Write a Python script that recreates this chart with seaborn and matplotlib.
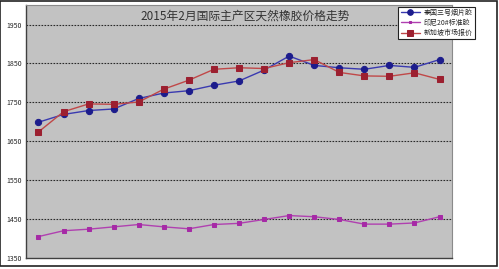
import matplotlib
matplotlib.use("Agg")
import matplotlib.pyplot as plt
import seaborn as sns
import pandas as pd
from matplotlib.patches import Rectangle

sns.set_theme(style="white")
plt.rcParams['font.family'] = ['Noto Sans CJK SC', 'DejaVu Sans']

title = "2015年2月国际主产区天然橡胶价格走势"
series_names = ["泰国三号烟片胶", "印尼20#标准胶", "新加坡市场报价"]
days = list(range(17))
thai_rss3 = [1699, 1719, 1729, 1733, 1760, 1774, 1780, 1794, 1805, 1833,
             1869, 1845, 1839, 1835, 1845, 1840, 1860]
indo_sir20 = [1405, 1420, 1424, 1430, 1436, 1430, 1425, 1436, 1439, 1449,
              1459, 1456, 1449, 1437, 1437, 1440, 1456]
sg_quote = [1674, 1726, 1746, 1745, 1751, 1784, 1807, 1835, 1839, 1837,
            1852, 1860, 1827, 1818, 1817, 1826, 1809]
yticks = [1350, 1450, 1550, 1650, 1750, 1850, 1950]

df = pd.DataFrame({
    "day": days * 3,
    "price": thai_rss3 + indo_sir20 + sg_quote,
    "series": [series_names[0]] * 17 + [series_names[1]] * 17 + [series_names[2]] * 17,
})

fig = plt.figure(figsize=(4.99, 2.69), dpi=100)
ax = fig.add_axes([0.052, 0.041, 0.854, 0.940])
ax.set_facecolor("#c2c2c2")

palette = {series_names[0]: "#1c1c8c", series_names[1]: "#a62aa6", series_names[2]: "#9c2030"}
line_colors = {series_names[0]: "#3a3ab0", series_names[1]: "#b040b0", series_names[2]: "#c04848"}
markers = {series_names[0]: "o", series_names[1]: "s", series_names[2]: "s"}
msize = {series_names[0]: 4.5, series_names[1]: 2.2, series_names[2]: 4.3}

for name in series_names:
    sub = df[df["series"] == name]
    sns.lineplot(data=sub, x="day", y="price", ax=ax, color=line_colors[name],
                 linewidth=1.0, marker=markers[name], markersize=msize[name],
                 markerfacecolor=palette[name], markeredgecolor=palette[name],
                 label=name, legend=False, zorder=3)

ax.set_xlim(-0.5, 16.5)
ax.set_ylim(1350, 2000)
ax.set_yticks(yticks)
ax.set_yticklabels([str(v) for v in yticks], fontsize=5, color="#222222")
ax.set_xticks([])
ax.set_xlabel("")
ax.set_ylabel("")
ax.tick_params(axis="y", length=0, pad=3)
for v in yticks[1:]:
    ax.axhline(v, color="#2a2a2a", linewidth=0.8, linestyle=(0, (1.5, 1.2)), zorder=1)
for s in ["top", "right"]:
    ax.spines[s].set_color("#8a8a8a")
    ax.spines[s].set_linewidth(0.8)
for s in ["left", "bottom"]:
    ax.spines[s].set_color("#404040")
    ax.spines[s].set_linewidth(1.0)

ax.text(0.515, 0.955, title, transform=ax.transAxes, ha="center", va="center",
        fontsize=8.5, color="#333333")

handles, labels = ax.get_legend_handles_labels()
leg = fig.legend(handles, labels, loc="upper right", bbox_to_anchor=(0.958, 0.988),
                 fontsize=5, frameon=True, fancybox=False, edgecolor="#222222",
                 framealpha=1, handlelength=2.8, borderpad=0.3, labelspacing=0.3,
                 handletextpad=0.5, markerscale=0.9)
leg.get_frame().set_linewidth(0.8)

fig.patches.append(Rectangle((0.001, 0.012), 0.994, 0.985, transform=fig.transFigure,
                             fill=False, edgecolor="#222222", linewidth=1.2))

fig.savefig("out.png", dpi=100)
